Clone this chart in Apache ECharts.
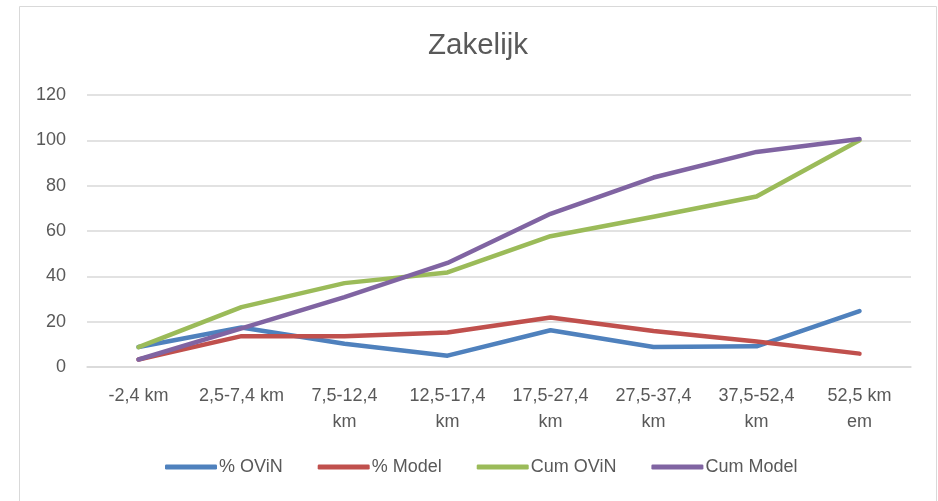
<!DOCTYPE html>
<html>
<head>
<meta charset="utf-8">
<script src="https://cdn.jsdelivr.net/npm/echarts@6/dist/echarts.min.js"></script>
<style>
  html, body { margin: 0; padding: 0; background: #fff; }
  #main { width: 938px; height: 501px; }
</style>
</head>
<body>
<div id="main"></div>
<script>
// categorieën (afstandsklassen)
var categories = ['-2,4 km', '2,5-7,4 km', '7,5-12,4\nkm', '12,5-17,4\nkm', '17,5-27,4\nkm', '27,5-37,4\nkm', '37,5-52,4\nkm', '52,5 km\nem'];
var pctOvin  = [8.8, 17.4, 10.3, 5.0, 16.2, 8.8, 9.1, 24.7];
var pctModel = [3.3, 13.6, 13.6, 15.2, 21.8, 15.9, 11.3, 5.9];
var cumOvin  = [8.8, 26.4, 37.0, 41.7, 57.7, 66.3, 75.2, 100.0];
var cumModel = [3.3, 17.0, 30.8, 45.9, 67.6, 83.6, 94.9, 100.6];
var yTicks = [0, 20, 40, 60, 80, 100, 120];

var font = "'Liberation Sans', Arial, sans-serif";
var txt = '#595959';

function line(name, data, color) {
    return {
        name: name,
        type: 'line',
        data: data,
        symbol: 'none',
        smooth: false,
        lineStyle: { color: color, width: 4.5, cap: 'round', join: 'round' },
        itemStyle: { color: color }
    };
}

var chart = echarts.init(document.getElementById('main'));
chart.setOption({
    animation: false,
    backgroundColor: '#fff',
    graphic: [{
        type: 'rect',
        shape: { x: 19.5, y: 6.5, width: 917, height: 520 },
        style: { fill: 'none', stroke: '#d9d9d9', lineWidth: 1 },
        silent: true
    }],
    title: {
        text: 'Zakelijk',
        left: 473,
        textAlign: 'center',
        top: 26,
        textStyle: { fontFamily: font, fontSize: 29.5, fontWeight: 'normal', color: txt }
    },
    legend: {
        bottom: 20,
        left: 160,
        itemWidth: 52,
        itemHeight: 5,
        itemGap: 35,
        icon: 'roundRect',
        data: ['% OViN', '% Model', 'Cum OViN', 'Cum Model'],
        textStyle: { fontFamily: font, fontSize: 18, color: txt, padding: [0, 0, 0, -3] }
    },
    grid: { left: 87, right: 27, top: 95, bottom: 134 },
    xAxis: {
        type: 'category',
        data: categories,
        boundaryGap: true,
        axisLine: { show: true, lineStyle: { color: '#d9d9d9', width: 1.5 } },
        axisTick: { show: false },
        axisLabel: {
            interval: 0,
            margin: 16,
            lineHeight: 26,
            fontFamily: font,
            fontSize: 18,
            color: txt
        }
    },
    yAxis: {
        type: 'value',
        min: yTicks[0],
        max: yTicks[yTicks.length - 1],
        interval: 20,
        axisLine: { show: false },
        axisTick: { show: false },
        splitLine: { lineStyle: { color: '#d9d9d9', width: 1.5 } },
        axisLabel: { margin: 21, fontFamily: font, fontSize: 18, color: txt }
    },
    series: [
        line('% OViN', pctOvin, '#4f81bd'),
        line('% Model', pctModel, '#c0504d'),
        line('Cum OViN', cumOvin, '#9bbb59'),
        line('Cum Model', cumModel, '#8064a2')
    ]
});
</script>
</body>
</html>
